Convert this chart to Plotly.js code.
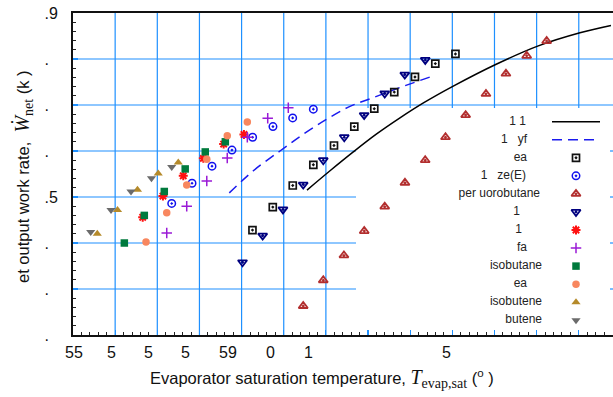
<!DOCTYPE html>
<html><head><meta charset="utf-8">
<script src="https://cdn.plot.ly/plotly-3.0.1.min.js"></script>
<style>html,body{margin:0;padding:0;background:#fff}</style>
</head><body><div id="chart" style="width:613px;height:397px"></div>
<script>
// ---------- data ----------
const seriesNames = ["1 1", "1\u00a0\u00a0\u00a0yf", "ea", "1\u00a0\u00a0\u00a0ze(E)", "per uorobutane", "1", "1", "fa", "isobutane", "ea", "isobutene", "butene"];

const curve1X = [-27.24, -24.51, -21.75, -19.06, -16.21, -13.38, -9.89, -4.86, 0.12, 5.14, 8.82];
const curve1Y = [0.515, 0.557, 0.598, 0.636, 0.672, 0.705, 0.741, 0.788, 0.828, 0.857, 0.873];

const curve2X = [-36.46, -33.61, -30.45, -27.72, -24.91, -22.14, -19.38, -16.21, -12.45];
const curve2Y = [0.509, 0.557, 0.600, 0.636, 0.669, 0.697, 0.716, 0.738, 0.762];

const eaX = [-33.71, -31.30, -28.93, -26.49, -24.04, -21.63, -19.26, -16.89, -14.43, -12.02, -9.63];
const eaY = [0.428, 0.478, 0.525, 0.570, 0.612, 0.653, 0.692, 0.728, 0.761, 0.790, 0.811];

const zeX = [-43.29, -40.88, -38.51, -36.14, -33.69, -31.28, -28.94, -26.49];
const zeY = [0.486, 0.530, 0.567, 0.602, 0.630, 0.653, 0.672, 0.691];

const pfbX = [-27.69, -25.31, -22.86, -20.45, -18.02, -15.62, -13.22, -10.81, -8.42, -6.01, -3.64, -1.18, 1.19];
const pfbY = [0.263, 0.319, 0.373, 0.426, 0.479, 0.531, 0.580, 0.630, 0.678, 0.724, 0.768, 0.807, 0.839];

const r1X = [-34.89, -32.50, -30.09, -27.69, -25.31, -22.82, -20.46, -18.02, -15.64, -13.21];
const r1Y = [0.358, 0.416, 0.473, 0.527, 0.580, 0.630, 0.678, 0.725, 0.766, 0.798];

const r2X = [-46.73, -44.33, -41.92, -39.54, -37.13, -34.72];
const r2Y = [0.456, 0.502, 0.546, 0.584, 0.615, 0.636];

const faX = [-43.88, -41.51, -39.13, -36.70, -34.32, -31.90, -29.46];
const faY = [0.422, 0.480, 0.535, 0.585, 0.630, 0.671, 0.694];

const isobutaneX = [-48.91, -46.54, -44.17, -41.69, -39.31, -36.93];
const isobutaneY = [0.400, 0.460, 0.512, 0.561, 0.598, 0.620];

const ea2X = [-46.34, -43.88, -41.51, -39.13, -36.70, -34.32];
const ea2Y = [0.402, 0.466, 0.526, 0.582, 0.633, 0.663];

const isobuteneX = [-52.12, -49.72, -47.35, -44.89, -42.51];
const isobuteneY = [0.420, 0.472, 0.516, 0.551, 0.575];

const buteneX = [-52.90, -50.49, -48.12, -45.69, -43.29];
const buteneY = [0.424, 0.472, 0.512, 0.541, 0.565];

const yTickVals = [0.2, 0.3, 0.4, 0.5, 0.6, 0.7, 0.8, 0.9];
const yTickText = [".\u2007", ".\u2007", ".\u2007", ".5", ".\u2007", ".\u2007", ".\u2007", ".9"];
const xGridVals = [-50, -45, -40, -35, -30, -25, -20, -15, -10, -5, 0, 5];
const xTickLabelVals = [-54.94, -50.49, -46.10, -41.60, -36.61, -31.57, -27.06, -10.75];
const xTickText = ["55", "5", "5", "5", "59", "0", "1", "5"];

// ---------- layout geometry ----------
const W = 613, H = 397, ML = 73, MR = 0, MT = 13, MB = 62;
const xRange = [-55, 9.06], yRange = [0.2, 0.9];
const PW = W - ML - MR, PH = H - MT - MB;
const px2x = p => xRange[0] + (p - ML) / PW * (xRange[1] - xRange[0]);
const py2y = p => yRange[0] + (MT + PH - p) / PH * (yRange[1] - yRange[0]);
const px2paper = p => (p - ML) / PW;
const py2paper = p => (MT + PH - p) / PH;

const gridColor = "rgb(30,144,255)";
const FONT = "Liberation Sans, Arial, sans-serif";

// key box (opaque, hides the grid behind the key)
const keyBox = {x0: 356, x1: 610, top: 108, bottom: 330};

// series styles
const lineSeries = [
  {x: curve1X, y: curve1Y, line: {color: "#000", width: 1.5, shape: "spline"}},
  {x: curve2X, y: curve2Y, line: {color: "#1a1aee", width: 1.5, dash: "10px,6px", shape: "spline"}}
];
const markerSeries = [
  {x: eaX, y: eaY, marker: {symbol: "square-open-dot", size: 7, color: "#111", line: {width: 1.7, color: "#111"}}},
  {x: zeX, y: zeY, marker: {symbol: "circle-open-dot", size: 7.5, color: "#1010ee", line: {width: 1.5, color: "#1010ee"}}},
  {x: pfbX, y: pfbY, marker: {symbol: "triangle-up-open-dot", size: 8, color: "#b22e2e", line: {width: 1.8, color: "#b22e2e"}}},
  {x: r1X, y: r1Y, marker: {symbol: "triangle-down-open-dot", size: 8, color: "#00007f", line: {width: 1.8, color: "#00007f"}}},
  {x: r2X, y: r2Y, marker: {symbol: "asterisk-open", size: 7.5, color: "#ff1010", line: {width: 2, color: "#ff1010"}}},
  {x: faX, y: faY, marker: {symbol: "cross-thin-open", size: 7.5, color: "#9a1ad6", line: {width: 1.5, color: "#9a1ad6"}}},
  {x: isobutaneX, y: isobutaneY, marker: {symbol: "square", size: 7.5, color: "#007a3d"}},
  {x: ea2X, y: ea2Y, marker: {symbol: "circle", size: 7.5, color: "#f8875f"}},
  {x: isobuteneX, y: isobuteneY, marker: {symbol: "triangle-up", size: 8, color: "#b58a2a"}},
  {x: buteneX, y: buteneY, marker: {symbol: "triangle-down", size: 8, color: "#6b6b6b"}}
];

const traces = [];
lineSeries.forEach((s, i) => traces.push({type: "scatter", mode: "lines", x: s.x, y: s.y, line: s.line, name: seriesNames[i], showlegend: false, hoverinfo: "skip"}));
markerSeries.forEach((s, i) => traces.push({type: "scatter", mode: "markers", x: s.x, y: s.y, marker: s.marker, name: seriesNames[i + 2], showlegend: false, hoverinfo: "skip", cliponaxis: false}));

// custom key (text right-justified, sample on the right, gnuplot style)
const keyTop = 121.7, keyStep = 18.05, keySymX = 576, keyLine = [552, 600];
const keyTextRight = [523, 524, 524, 523, 537, 517, 519, 524, 539, 524, 539, 539];
const keyTextOffset = 3;
const keyRows = seriesNames.map((nm, i) => keyTop + i * keyStep);
traces.push({
  type: "scatter", mode: "text", x: keyTextRight.map(r => px2x(r + keyTextOffset)), y: keyRows.map(py2y),
  text: seriesNames, textposition: "middle left", textfont: {family: FONT, size: 12, color: "#222"},
  showlegend: false, hoverinfo: "skip", cliponaxis: false
});
keyRows.forEach((ypx, i) => {
  if (i < 2) {
    traces.push({type: "scatter", mode: "lines", x: [px2x(keyLine[0]), px2x(keyLine[1])], y: [py2y(ypx), py2y(ypx)], line: Object.assign({}, lineSeries[i].line, {shape: "linear"}), showlegend: false, hoverinfo: "skip"});
  } else {
    traces.push({type: "scatter", mode: "markers", x: [px2x(keySymX)], y: [py2y(ypx)], marker: markerSeries[i - 2].marker, showlegend: false, hoverinfo: "skip", cliponaxis: false});
  }
});

const annotations = [];
// x tick labels (placed where the reference shows them)
xTickText.forEach((t, i) => annotations.push({
  xref: "x", yref: "paper", x: xTickLabelVals[i], y: py2paper(352), xanchor: "center", yanchor: "middle",
  text: t, showarrow: false, font: {family: FONT, size: 16, color: "#111"}
}));
annotations.push({
  xref: "paper", yref: "paper", x: px2paper(322), y: py2paper(378), xanchor: "center", yanchor: "middle", showarrow: false,
  text: 'Evaporator saturation temperature, <span style="font-family:Liberation Serif;font-size:20px"><i>T</i><sub>evap,sat</sub></span> (<sup>o</sup>\u00a0)',
  font: {family: FONT, size: 16.5, color: "#111"}
});
annotations.push({
  xref: "paper", yref: "paper", x: px2paper(23), y: py2paper(177), xanchor: "center", yanchor: "middle", textangle: -90, showarrow: false,
  text: 'et output work rate,\u00a0\u00a0<span style="font-family:Liberation Serif;font-size:20px"><i>\u1E86</i><sub>net</sub></span> (k\u00a0)',
  font: {family: FONT, size: 16.5, color: "#111"}
});

// grid lines as shapes (the key box hides part of them)
const shapes = [];
const gl = {color: gridColor, width: 1.2};
xGridVals.forEach(v => {
  const xp = ML + (v - xRange[0]) / (xRange[1] - xRange[0]) * PW;
  const inBox = xp > keyBox.x0 && xp < keyBox.x1;
  shapes.push({type: "line", layer: "below", xref: "x", yref: "y", x0: v, x1: v, y0: inBox ? py2y(keyBox.top) : yRange[0], y1: yRange[1], line: gl});
});
yTickVals.slice(1, -1).forEach(v => {
  const yp = MT + (yRange[1] - v) / (yRange[1] - yRange[0]) * PH;
  if (yp > keyBox.top && yp < keyBox.bottom) {
    shapes.push({type: "line", layer: "below", xref: "x", yref: "y", x0: xRange[0], x1: px2x(keyBox.x0), y0: v, y1: v, line: gl});
    shapes.push({type: "line", layer: "below", xref: "x", yref: "y", x0: px2x(keyBox.x1), x1: xRange[1], y0: v, y1: v, line: gl});
  } else {
    shapes.push({type: "line", layer: "below", xref: "x", yref: "y", x0: xRange[0], x1: xRange[1], y0: v, y1: v, line: gl});
  }
});

const layout = {
  width: W, height: H,
  margin: {l: ML, r: MR, t: MT, b: MB, pad: 0},
  paper_bgcolor: "#fff", plot_bgcolor: "#fff",
  showlegend: false,
  font: {family: FONT, color: "#111"},
  xaxis: {
    range: xRange, tickmode: "linear", tick0: -55, dtick: 5,
    showticklabels: false, ticks: "inside", ticklen: 5, tickcolor: gridColor, tickwidth: 1.2,
    showgrid: false,
    showline: true, linecolor: "#111", linewidth: 2, mirror: true, zeroline: false,
    minor: {tick0: -55, dtick: 1, ticks: "inside", ticklen: 3.5, tickcolor: "#222", tickwidth: 1, showgrid: false}
  },
  yaxis: {
    range: yRange, tickmode: "array", tickvals: yTickVals, ticktext: yTickText,
    ticks: "inside", ticklen: 5, tickcolor: gridColor, tickwidth: 1.2,
    showgrid: false,
    showline: true, linecolor: "#111", linewidth: 2, zeroline: false,
    tickfont: {family: FONT, size: 16, color: "#111"}, ticklabelstandoff: 10,
    minor: {tick0: 0.2, dtick: 0.02, ticks: "inside", ticklen: 3, tickcolor: "#222", tickwidth: 1, showgrid: false}
  },
  shapes: shapes,
  annotations: annotations
};

Plotly.newPlot("chart", traces, layout, {displayModeBar: false, staticPlot: true});
</script>
</body></html>
